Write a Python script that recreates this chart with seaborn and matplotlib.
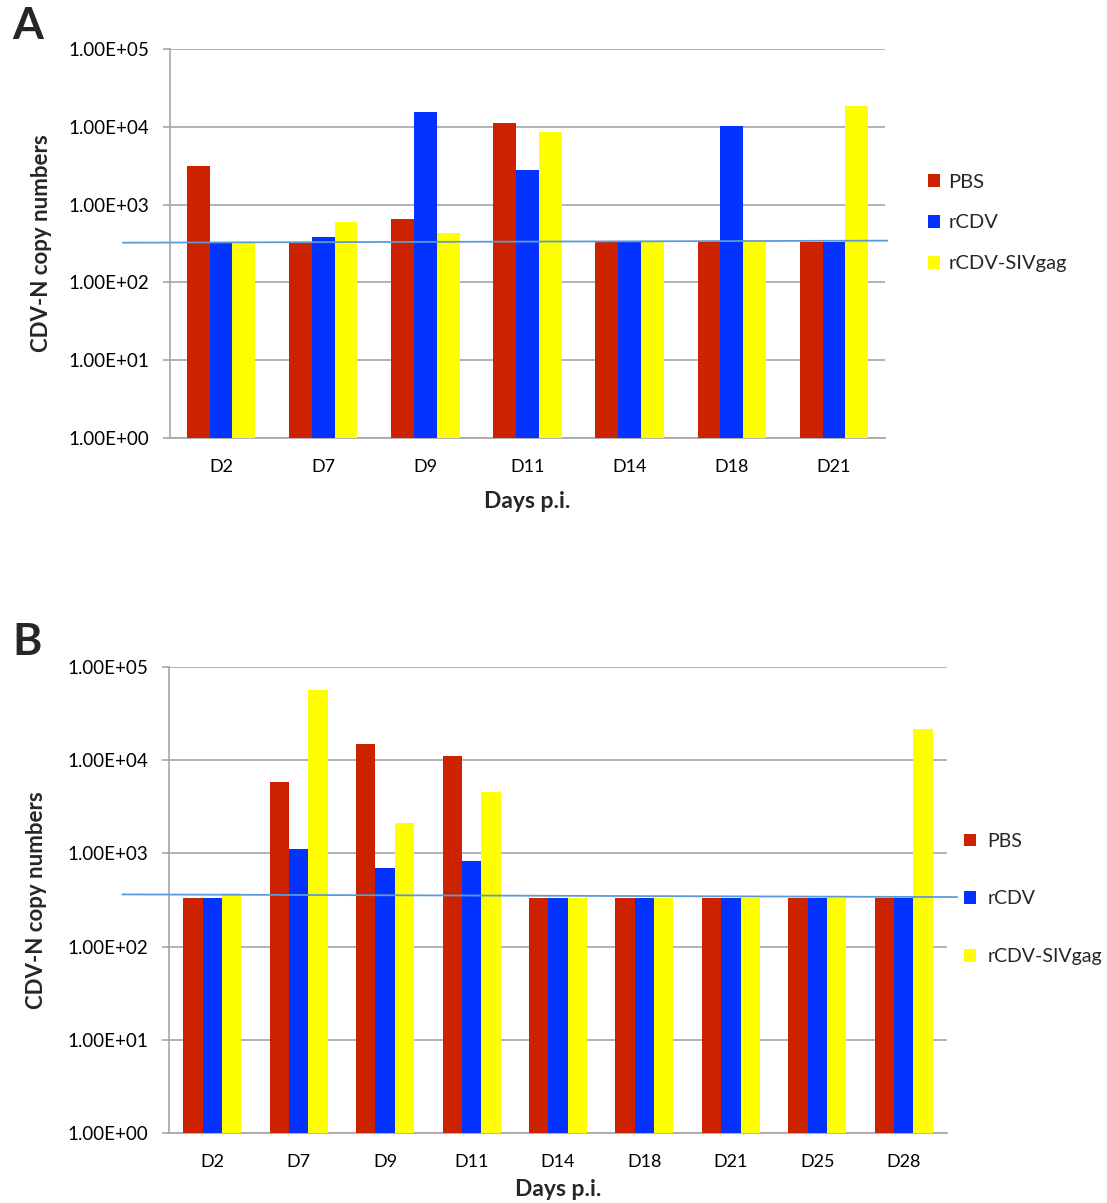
import numpy as np
import pandas as pd
import matplotlib
matplotlib.use("Agg")
import matplotlib.pyplot as plt
import matplotlib.transforms as mtransforms
from matplotlib.patches import Patch
from matplotlib.ticker import FixedLocator, NullLocator
import seaborn as sns

# ---------------- data ----------------
groups = ["PBS", "rCDV", "rCDV-SIVgag"]
colors = ["#CC2200", "#0433FF", "#FFFF00"]

days_a = ["D2", "D7", "D9", "D11", "D14", "D18", "D21"]
pbs_a = [3100, 335, 655, 11200, 335, 335, 335]
rcdv_a = [335, 380, 15500, 2780, 335, 10100, 335]
siv_a = [335, 595, 430, 8700, 335, 335, 18300]
threshold_a = [324, 344]

days_b = ["D2", "D7", "D9", "D11", "D14", "D18", "D21", "D25", "D28"]
pbs_b = [334, 5850, 15100, 11200, 334, 334, 334, 334, 334]
rcdv_b = [334, 1110, 700, 820, 334, 334, 334, 334, 334]
siv_b = [377, 57000, 2130, 4550, 334, 334, 334, 334, 21600]
threshold_b = [363, 340]

ytick_values = [1, 10, 100, 1000, 10000, 100000]
ytick_labels = ["1.00E+00", "1.00E+01", "1.00E+02", "1.00E+03", "1.00E+04", "1.00E+05"]

xlabel_text = "Days p.i."
ylabel_text = "CDV-N copy numbers"

# ---------------- style ----------------
sns.set_style("white")
plt.rcParams["font.family"] = ["Lato", "DejaVu Sans"]

W, H = 1107, 1203
fig = plt.figure(figsize=(W / 100, H / 100), dpi=100)

GRID = "#A6A6A6"
LINE = "#5B9BD5"


def frac_box(left, top, right, bottom):
    return [left / W, 1 - bottom / H, (right - left) / W, (bottom - top) / H]


def panel(ax, days, pbs, rcdv, siv, thr, thr_x, xlab_y, ylab_x):
    df = pd.DataFrame({
        "day": days * 3,
        "group": [g for g in groups for _ in days],
        "value": pbs + rcdv + siv,
    })
    ax.set_yscale("log", nonpositive="clip")
    sns.barplot(data=df, x="day", y="value", hue="group", hue_order=groups,
                palette=colors, width=0.67, gap=0, saturation=1,
                legend=False, ax=ax, zorder=3, linewidth=0)
    ax.set_yscale("log", nonpositive="clip")
    n = len(days)
    ax.set_ylim(1, 1e5)
    ax.set_xlim(-0.5, n - 0.5)
    ax.yaxis.set_major_locator(FixedLocator(ytick_values))
    ax.yaxis.set_minor_locator(NullLocator())
    ax.set_yticklabels(ytick_labels)
    ax.grid(axis="y", color=GRID, lw=1.2, zorder=0)
    ax.grid(axis="x", visible=False)
    ax.set_axisbelow(True)
    for s in ["top", "right"]:
        ax.spines[s].set_visible(False)
    for s in ["left", "bottom"]:
        ax.spines[s].set_color(GRID)
        ax.spines[s].set_linewidth(1.2)
    ax.set_xticks(np.arange(-0.5, n), minor=True)
    ax.tick_params(axis="x", which="major", length=0, pad=15, labelsize=13,
                   labelcolor="black")
    ax.tick_params(axis="x", which="minor", length=5, width=1.2, color=GRID)
    ax.tick_params(axis="y", which="major", length=5, width=1.2, color=GRID,
                   pad=10, labelsize=13.5, labelcolor="black", left=True)
    ax.set_xlabel(xlabel_text, fontsize=16.5, fontweight="bold")
    ax.set_ylabel(ylabel_text, fontsize=16, fontweight="bold")
    ax.xaxis.set_label_coords(0.5, xlab_y)
    ax.xaxis.label.set_va("center")
    ax.yaxis.set_label_coords(ylab_x, 0.5)
    ax.yaxis.label.set_va("center")
    trans = mtransforms.blended_transform_factory(ax.transAxes, ax.transData)
    ax.plot(thr_x, thr, transform=trans, color=LINE, lw=1.3, clip_on=False, zorder=6)


# Panel A
axA = fig.add_axes(frac_box(170, 49, 885, 438))
panel(axA, days_a, pbs_a, rcdv_a, siv_a, threshold_a, [-0.066, 1.003],
      (438 - 502) / 389, (42 - 170) / 715)

# Panel B
axB = fig.add_axes(frac_box(169, 667, 947, 1133))
panel(axB, days_b, pbs_b, rcdv_b, siv_b, threshold_b, [-0.060, 1.013],
      (1133 - 1190) / 466, (37 - 169) / 778)

handles = [Patch(facecolor=c, edgecolor="none") for c in colors]

fig.legend(handles, groups, loc="center left", bbox_to_anchor=(928 / W, 1 - 223 / H),
           frameon=False, fontsize=14.5, handlelength=0.6, handleheight=0.6,
           handletextpad=0.4, labelspacing=1.18, borderpad=0, borderaxespad=0)
fig.legend(handles, groups, loc="center left", bbox_to_anchor=(964 / W, 1 - 899 / H),
           frameon=False, fontsize=14, handlelength=0.62, handleheight=0.62,
           handletextpad=0.6, labelspacing=2.1, borderpad=0, borderaxespad=0)

fig.text(12 / W, 1 - 6 / H, "A", fontsize=32, fontweight="bold", va="top", ha="left")
fig.text(12 / W, 1 - 622 / H, "B", fontsize=32, fontweight="bold", va="top", ha="left")

fig.savefig("out.png", dpi=100)
